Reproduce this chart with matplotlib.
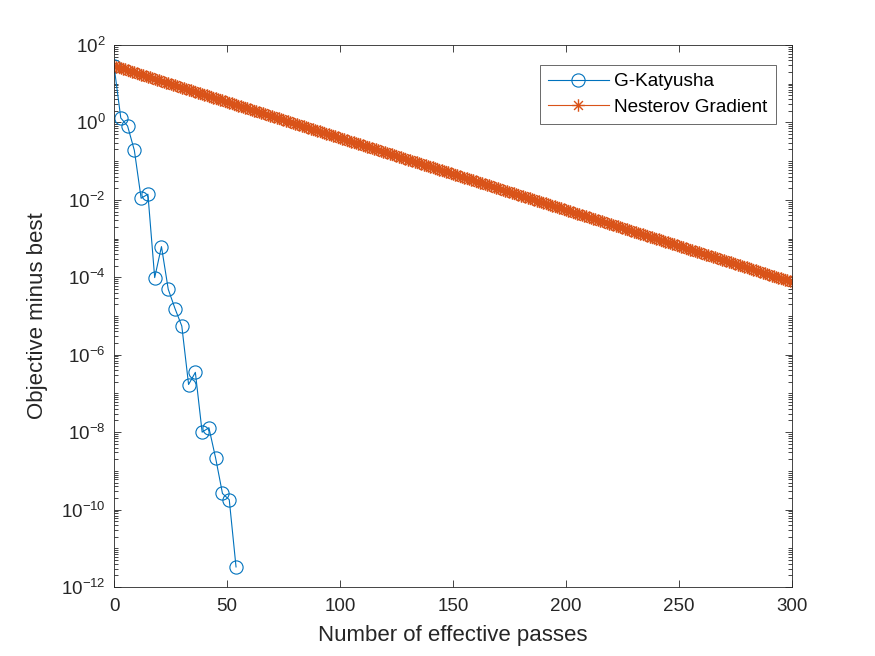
import math
import matplotlib
matplotlib.use("Agg")
import matplotlib.pyplot as plt
from matplotlib.path import Path
from matplotlib.ticker import LogLocator, FixedLocator, NullFormatter, FuncFormatter

plt.rcParams['font.family'] = ['Liberation Sans', 'DejaVu Sans']
plt.rcParams['mathtext.fontset'] = 'custom'
plt.rcParams['mathtext.rm'] = 'Liberation Sans'
plt.rcParams['mathtext.it'] = 'Liberation Sans:italic'

# ---- data ----
gk_passes = list(range(0, 55, 3))
gk_values = [29, 1.3, 0.81, 0.19, 0.011, 0.014, 9.8e-5, 6.2e-4, 4.9e-5, 1.55e-5,
             5.5e-6, 1.7e-7, 3.5e-7, 1.0e-8, 1.3e-8, 2.1e-9, 2.6e-10, 1.8e-10, 3.3e-12]

ng_passes = list(range(0, 301))
ng_values = [
    28.8, 27.6, 26.5, 25.4, 24.3, 23.3, 22.3, 21.4, 20.5, 19.6,
    18.8, 18.0, 17.2, 16.5, 15.8, 15.1, 14.5, 13.9, 13.3, 12.7,
    12.2, 11.7, 11.2, 10.7, 10.3, 9.87, 9.47, 9.07, 8.70, 8.34,
    7.98, 7.65, 7.33, 7.02, 6.72, 6.44, 6.17, 5.91, 5.67, 5.43,
    5.20, 4.98, 4.77, 4.57, 4.38, 4.20, 4.02, 3.85, 3.69, 3.54,
    3.39, 3.25, 3.11, 2.98, 2.855, 2.735, 2.62, 2.51, 2.405, 2.304,
    2.208, 2.115, 2.027, 1.942, 1.860, 1.782, 1.708, 1.636, 1.568, 1.502,
    1.439, 1.379, 1.321, 1.266, 1.212, 1.161, 1.113, 1.066, 1.021, 0.978,
    0.9376, 0.8983, 0.8606, 0.8245, 0.790, 0.757, 0.725, 0.695, 0.666, 0.638,
    0.611, 0.585, 0.561, 0.5375, 0.515, 0.4934, 0.4726, 0.4528, 0.4338, 0.4156,
    0.3981, 0.3814, 0.3655, 0.3502, 0.3355, 0.3214, 0.3080, 0.2951, 0.2827, 0.2709,
    0.2594, 0.2485, 0.2381, 0.2281, 0.2186, 0.2094, 0.2006, 0.1922, 0.1842, 0.1765,
    0.1690, 0.1619, 0.1552, 0.1487, 0.1424, 0.1364, 0.1307, 0.1252, 0.1200, 0.1150,
    0.1102, 0.1056, 0.1011, 0.0969, 0.0928, 0.0889, 0.0852, 0.0816, 0.0782, 0.0749,
    0.0718, 0.0688, 0.0659, 0.0631, 0.0605, 0.0580, 0.0555, 0.0532, 0.0510, 0.0489,
    0.0468, 0.0448, 0.0429, 0.0411, 0.0394, 0.0377, 0.0362, 0.0347, 0.0332, 0.0318,
    0.0305, 0.0292, 0.0280, 0.0268, 0.0257, 0.0246, 0.0236, 0.0226, 0.0216, 0.0207,
    0.0199, 0.0191, 0.0182, 0.0174, 0.0167, 0.0160, 0.0154, 0.0148, 0.0141, 0.0135,
    0.0129, 0.0124, 0.0119, 0.0114, 0.0109, 0.0104, 0.0100, 9.58e-3, 9.19e-3, 8.80e-3,
    8.43e-3, 8.08e-3, 7.74e-3, 7.42e-3, 7.10e-3, 6.80e-3, 6.52e-3, 6.25e-3, 5.99e-3, 5.74e-3,
    5.50e-3, 5.27e-3, 5.04e-3, 4.83e-3, 4.63e-3, 4.44e-3, 4.25e-3, 4.07e-3, 3.90e-3, 3.74e-3,
    3.58e-3, 3.43e-3, 3.29e-3, 3.15e-3, 3.02e-3, 2.89e-3, 2.77e-3, 2.65e-3, 2.54e-3, 2.43e-3,
    2.33e-3, 2.23e-3, 2.14e-3, 2.05e-3, 1.97e-3, 1.89e-3, 1.81e-3, 1.73e-3, 1.66e-3, 1.59e-3,
    1.52e-3, 1.46e-3, 1.40e-3, 1.34e-3, 1.28e-3, 1.23e-3, 1.18e-3, 1.13e-3, 1.08e-3, 1.03e-3,
    9.91e-4, 9.49e-4, 9.10e-4, 8.72e-4, 8.35e-4, 8.00e-4, 7.66e-4, 7.34e-4, 7.04e-4, 6.75e-4,
    6.46e-4, 6.19e-4, 5.93e-4, 5.68e-4, 5.44e-4, 5.21e-4, 4.99e-4, 4.78e-4, 4.59e-4, 4.40e-4,
    4.21e-4, 4.03e-4, 3.86e-4, 3.70e-4, 3.54e-4, 3.39e-4, 3.25e-4, 3.11e-4, 2.99e-4, 2.86e-4,
    2.74e-4, 2.63e-4, 2.52e-4, 2.41e-4, 2.31e-4, 2.21e-4, 2.12e-4, 2.03e-4, 1.95e-4, 1.87e-4,
    1.79e-4, 1.71e-4, 1.64e-4, 1.57e-4, 1.51e-4, 1.45e-4, 1.38e-4, 1.32e-4, 1.27e-4, 1.22e-4,
    1.16e-4, 1.11e-4, 1.07e-4, 1.03e-4, 9.81e-5, 9.40e-5, 9.00e-5, 8.62e-5, 8.26e-5, 7.91e-5,
    7.59e-5]

x_ticks = [0, 50, 100, 150, 200, 250, 300]
y_ticks = [1e-12, 1e-10, 1e-8, 1e-6, 1e-4, 1e-2, 1e0, 1e2]

blue = '#0072BD'
orange = '#D95319'
axcol = '#262626'

# MATLAB-style asterisk marker (plus + cross strokes)
d = 0.7071
asterisk = Path([(0, -1), (0, 1), (-1, 0), (1, 0), (-d, -d), (d, d), (-d, d), (d, -d)],
                [Path.MOVETO, Path.LINETO] * 4)

fig = plt.figure(figsize=(8.75, 6.56), dpi=100)
ax = fig.add_axes([0.1303, 0.1052, 0.7747, 0.8262])

ax.semilogy(gk_passes, gk_values, color=blue, lw=0.8, marker='o', ms=9.5,
            mfc='none', mec=blue, mew=0.8, label='G-Katyusha')
ax.semilogy(ng_passes, ng_values, color=orange, lw=0.8, marker=asterisk, ms=9,
            mfc='none', mec=orange, mew=1.0, label='Nesterov Gradient')

ax.set_xlim(0, 300)
ax.set_ylim(1e-12, 1e2)
ax.xaxis.set_major_locator(FixedLocator(x_ticks))
ax.yaxis.set_major_locator(FixedLocator(y_ticks))
ax.yaxis.set_minor_locator(LogLocator(base=10, subs=range(1, 10), numticks=100))
ax.yaxis.set_minor_formatter(NullFormatter())

def fmt(v, pos):
    e = int(round(math.log10(v)))
    return r'$10^{%d}$' % e
ax.yaxis.set_major_formatter(FuncFormatter(fmt))

ax.tick_params(which='both', direction='in', top=True, right=True, labelsize=13.5,
               colors=axcol, labelcolor=axcol, width=0.6)
ax.tick_params(which='major', length=5)
ax.tick_params(which='minor', length=3)
ax.tick_params(axis='x', pad=8)
ax.tick_params(axis='y', pad=6)
for s in ax.spines.values():
    s.set_color(axcol)
    s.set_linewidth(0.6)

ax.set_xlabel('Number of effective passes', fontsize=16, color=axcol, labelpad=7)
ax.set_ylabel('Objective minus best', fontsize=16, color=axcol, labelpad=9)

leg = ax.legend(loc='upper right', bbox_to_anchor=(0.976, 0.963), fontsize=13.7,
                frameon=True, fancybox=False, edgecolor=axcol, handlelength=3.2,
                borderpad=0.42, labelspacing=0.42, handletextpad=0.3, borderaxespad=0)
leg.get_frame().set_linewidth(0.6)

fig.savefig('out.png', dpi=100)
